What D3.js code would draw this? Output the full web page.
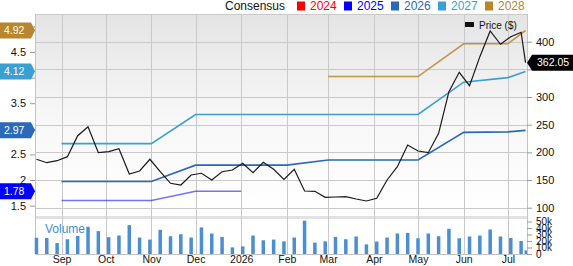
<!DOCTYPE html>
<html>
<head>
<meta charset="utf-8">
<script src="https://cdn.jsdelivr.net/npm/d3@7"></script>
<style>
  body { margin: 0; background: #fff; }
  svg { display: block; font-family: "Liberation Sans", Arial, sans-serif; }
</style>
</head>
<body>
<div id="chart"></div>
<script>
// weekly closing price ($), first week ending 2025-08-15, last point is 2026-07-13
const priceWeekStart = "2025-08-15";
const prices = [187.5, 181.3, 184.9, 192.2, 230.1, 246.4, 199.4, 201.2, 206.6, 160.9,
  166.3, 187.5, 165.0, 144.1, 141.0, 159.1, 162.2, 150.1, 165.0, 168.1,
  180.2, 163.2, 182.0, 169.4, 151.3, 169.4, 130.2, 129.6, 118.8, 119.3,
  119.9, 115.7, 112.1, 117.0, 150.1, 174.1, 213.3, 202.5, 199.4, 234.4,
  309.6, 344.7, 320.5, 372.9, 419.3, 395.3, 409.0, 417.0];
const lastPrice = { date: "2026-07-13", value: 362.05 };

// weekly volume (shares)
const volumes = [25000, 24700, 16900, 22700, 27800, 41900, 35200, 25800, 28400, 44500,
  25300, 22200, 37200, 27300, 30500, 25300, 40900, 31600, 26300, 10200,
  11700, 28400, 21100, 22200, 19500, 25300, 51300, 17500, 19500, 26300,
  22700, 26900, 14800, 19100, 25300, 31600, 32500, 24200, 31600, 27300,
  38800, 24200, 26900, 28400, 37800, 26900, 24700, 20000];
const lastVolume = 5500;

// consensus EPS estimates by fiscal year
const years = ["2024", "2025", "2026", "2027", "2028"];
const yearColors = ["#ff0000", "#0000ff", "#2a6ab8", "#3a9fd2", "#b8862e"];
const eps2025 = [["2025-09-01", 1.60], ["2025-11-01", 1.60], ["2025-12-01", 1.78], ["2026-01-01", 1.78]];
const eps2026 = [["2025-09-01", 1.97], ["2025-11-01", 1.97], ["2025-12-01", 2.29], ["2026-02-01", 2.29],
  ["2026-03-01", 2.39], ["2026-05-01", 2.39], ["2026-06-01", 2.93], ["2026-07-01", 2.94], ["2026-07-13", 2.97]];
const eps2027 = [["2025-09-01", 2.71], ["2025-11-01", 2.71], ["2025-12-01", 3.28], ["2026-05-01", 3.28],
  ["2026-06-01", 3.91], ["2026-07-01", 4.00], ["2026-07-13", 4.12]];
const eps2028 = [["2026-03-01", 4.02], ["2026-05-01", 4.02], ["2026-06-01", 4.66], ["2026-07-01", 4.66], ["2026-07-13", 4.92]];
const epsTags = [["4.92", 4.92, 4], ["4.12", 4.12, 3], ["2.97", 2.97, 2], ["1.78", 1.78, 1]];

const monthTicks = ["2025-09-01", "2025-10-01", "2025-11-01", "2025-12-01", "2026-01-01", "2026-02-01",
  "2026-03-01", "2026-04-01", "2026-05-01", "2026-06-01", "2026-07-01"];
const monthLabels = ["Sep", "Oct", "Nov", "Dec", "2026", "Feb", "Mar", "Apr", "May", "Jun", "Jul"];
const priceTicks = [100, 150, 200, 250, 300, 350, 400];
const priceGrid = [100, 150, 200, 250, 300, 350, 400, 450];
const epsTicks = [1.5, 2, 2.5, 3, 3.5, 4, 4.5, 5];
const volTicks = [0, 10000, 20000, 30000, 40000, 50000];

const W = 573, H = 266;
const plotL = 35, plotR = 527, plotT = 14, mainB = 216, volT = 219, volB = 254;
const parse = d3.timeParse("%Y-%m-%d");

const svg = d3.select("#chart").append("svg").attr("width", W).attr("height", H);

const x = d3.scaleTime().domain([parse("2025-08-14"), parse("2026-07-14")]).range([plotL, plotR]);
const yPrice = d3.scaleLinear().domain([85, 450]).range([mainB, plotT]);
const yEps = d3.scaleLinear().domain([1.297, 5.242]).range([mainB, plotT]);
const yVol = d3.scaleLinear().domain([0, 50000]).range([volB, 221.5]);

const weekDates = prices.map((p, i) => d3.timeDay.offset(parse(priceWeekStart), i * 7));
const priceData = prices.map((p, i) => ({ date: weekDates[i], value: p }))
  .concat([{ date: parse(lastPrice.date), value: lastPrice.value }]);
const volData = volumes.map((v, i) => ({ date: weekDates[i], value: v }))
  .concat([{ date: parse(lastPrice.date), value: lastVolume }]);

// backgrounds
const defs = svg.append("defs");
const grad = defs.append("linearGradient").attr("id", "bg").attr("x1", 0).attr("y1", 0).attr("x2", 0).attr("y2", 1);
grad.append("stop").attr("offset", "0%").attr("stop-color", "#e4e4e4");
grad.append("stop").attr("offset", "50%").attr("stop-color", "#f7f7f7");
grad.append("stop").attr("offset", "100%").attr("stop-color", "#ffffff");

svg.append("rect").attr("x", plotL).attr("y", plotT).attr("width", plotR - plotL).attr("height", mainB - plotT)
  .attr("fill", "url(#bg)");
svg.append("rect").attr("x", plotL).attr("y", mainB).attr("width", plotR - plotL).attr("height", volT - mainB)
  .attr("fill", "#e2e2e2");

// grid
svg.append("g").selectAll("line").data(priceGrid).join("line")
  .attr("x1", plotL).attr("x2", plotR)
  .attr("y1", d => Math.round(yPrice(d)) + 0.5).attr("y2", d => Math.round(yPrice(d)) + 0.5)
  .attr("stroke", "#c9c9c9");
svg.append("g").selectAll("line").data(monthTicks).join("line")
  .attr("x1", d => Math.round(x(parse(d))) + 0.5).attr("x2", d => Math.round(x(parse(d))) + 0.5)
  .attr("y1", plotT).attr("y2", volB)
  .attr("stroke", "#c9c9c9");

// frame
svg.append("line").attr("x1", plotL + 0.5).attr("x2", plotL + 0.5).attr("y1", plotT).attr("y2", volB).attr("stroke", "#c4c4c4");
svg.append("line").attr("x1", plotR + 0.5).attr("x2", plotR + 0.5).attr("y1", plotT).attr("y2", volB).attr("stroke", "#c4c4c4");
svg.append("line").attr("x1", plotL).attr("x2", plotR).attr("y1", volB + 0.5).attr("y2", volB + 0.5).attr("stroke", "#c4c4c4");

// volume bars
svg.append("text").attr("x", 45).attr("y", 233).attr("font-size", 12).attr("fill", "#3d8fd0").text("Volume");
svg.append("g").selectAll("rect").data(volData).join("rect")
  .attr("x", (d, i) => i === volData.length - 1 ? x(d.date) - 1 : x(d.date) - 1.75)
  .attr("width", (d, i) => i === volData.length - 1 ? 2.5 : 3.5)
  .attr("y", d => yVol(d.value))
  .attr("height", d => volB - yVol(d.value))
  .attr("fill", "#4a8fd3");

// consensus lines
const epsLine = d3.line().x(d => x(parse(d[0]))).y(d => yEps(d[1]));
const epsSeries = [[eps2025, 1, 0.55], [eps2026, 2, 1], [eps2027, 3, 1], [eps2028, 4, 0.85]];
epsSeries.forEach(([data, ci, op]) => {
  svg.append("path").datum(data).attr("d", epsLine)
    .attr("fill", "none").attr("stroke", yearColors[ci]).attr("stroke-opacity", op).attr("stroke-width", 1.6);
});

// price line
const priceLine = d3.line().x(d => x(d.date)).y(d => yPrice(d.value));
svg.append("path").datum(priceData).attr("d", priceLine)
  .attr("fill", "none").attr("stroke", "#1a1a1a").attr("stroke-width", 1.2);

// axes
const axisPrice = d3.axisRight(yPrice).tickValues(priceTicks).tickSize(5).tickPadding(4)
  .tickFormat(d => d === 350 ? "" : d);  // 350 sits under the last-price tag
const gR = svg.append("g").attr("transform", `translate(${plotR},0)`).call(axisPrice);
const axisVol = d3.axisRight(yVol).tickValues(volTicks).tickSize(5).tickPadding(4)
  .tickFormat(d => d === 0 ? "0" : (d / 1000) + "k");
const gV = svg.append("g").attr("transform", `translate(${plotR},0)`).call(axisVol);
// labels 3, 4 and 5 sit under the value tags
const axisEps = d3.axisLeft(yEps).tickValues(epsTicks).tickSize(5).tickPadding(4)
  .tickFormat(d => [3, 4, 5].includes(d) ? "" : d3.format("~g")(d));
const gL = svg.append("g").attr("transform", `translate(${plotL},0)`).call(axisEps);
const axisTime = d3.axisBottom(x).tickValues(monthTicks.map(parse)).tickSize(0).tickPadding(1.5)
  .tickFormat((d, i) => monthLabels[i]);
const gB = svg.append("g").attr("transform", `translate(0,${volB})`).call(axisTime);

[gR, gV, gL, gB].forEach(g => {
  g.select(".domain").remove();
  g.selectAll(".tick line").attr("stroke", "#999");
  g.selectAll("text").attr("fill", "#111").attr("font-family", "Liberation Sans, Arial, sans-serif");
});
gR.selectAll("text").attr("font-size", 11);
gL.selectAll("text").attr("font-size", 11);
gV.selectAll("text").attr("font-size", 10).attr("dy", "0.3em");
gB.selectAll("text").attr("font-size", 10.5);

// legend (top)
svg.append("text").attr("x", 225).attr("y", 10).attr("font-size", 12).attr("fill", "#111").text("Consensus");
const legendX = [297, 344, 391, 438, 485];
years.forEach((yr, i) => {
  svg.append("rect").attr("x", legendX[i]).attr("y", 1.5).attr("width", 8).attr("height", 9).attr("fill", yearColors[i]);
  svg.append("text").attr("x", legendX[i] + 13).attr("y", 10).attr("font-size", 12).attr("fill", yearColors[i]).text(yr);
});

// price legend inside plot
svg.append("rect").attr("x", 465).attr("y", 22).attr("width", 9).attr("height", 5).attr("fill", "#111");
svg.append("text").attr("x", 479).attr("y", 28.5).attr("font-size", 10).attr("fill", "#111").text("Price ($)");

// value tags
function leftTag(label, v, ci) {
  const cy = yEps(v);
  const g = svg.append("g");
  g.append("path")
    .attr("d", `M0,${cy - 8}H31L35,${cy}L31,${cy + 8}H0Z`)
    .attr("fill", yearColors[ci]);
  g.append("text").attr("x", 4).attr("y", cy + 3.5).attr("font-size", 10.5).attr("fill", "#fff").text(label);
}
epsTags.forEach(t => leftTag(t[0], t[1], t[2]));

const py = yPrice(lastPrice.value);
svg.append("path")
  .attr("d", `M${plotR},${py}L${plotR + 5},${py - 8}H${W}V${py + 8}H${plotR + 5}Z`)
  .attr("fill", "#000");
svg.append("text").attr("x", 537).attr("y", py + 3.5).attr("font-size", 10.5).attr("fill", "#fff").text(lastPrice.value.toFixed(2));
</script>
</body>
</html>
